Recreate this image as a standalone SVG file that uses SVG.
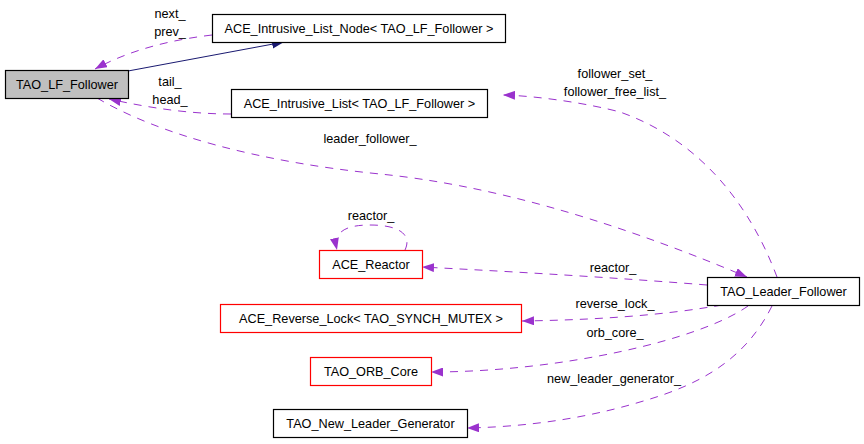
<svg xmlns="http://www.w3.org/2000/svg" width="864" height="444" viewBox="0 0 864 444">
<style>
.box{fill:#ffffff;stroke:#000000;stroke-width:1.2}
.red{fill:#ffffff;stroke:#ff0000;stroke-width:1.2}
.sel{fill:#bfbfbf;stroke:#000000;stroke-width:1.2}
text{font-family:"Liberation Sans",Arial,sans-serif;font-size:12.7px;fill:#000000}
.c{text-anchor:middle}
.e{fill:none;stroke:#9a32cd;stroke-width:1;stroke-dasharray:8,7}
.n{fill:none;stroke:#191970;stroke-width:1}
</style>
<defs>
<marker id="ap" viewBox="0 0 12 9" refX="12" refY="4.5" markerWidth="12" markerHeight="9" markerUnits="userSpaceOnUse" orient="auto">
<path d="M0,0 L12,4.5 L0,9 z" fill="#9a32cd"/>
</marker>
<marker id="an" viewBox="0 0 12 9" refX="12" refY="4.5" markerWidth="12" markerHeight="9" markerUnits="userSpaceOnUse" orient="auto">
<path d="M0,0 L12,4.5 L0,9 z" fill="#191970"/>
</marker>
</defs>
<g id="connectors">
<path class="n" d="M128,71 L284,42" marker-end="url(#an)"/>
<path class="e" d="M212,35 C170,40 130,50 95,69" marker-end="url(#ap)"/>
<text class="c" x="170" y="17.5">next_</text>
<text class="c" x="170" y="36">prev_</text>
<path class="e" d="M231,114 C190,114 150,108 109,99" marker-end="url(#ap)"/>
<text class="c" x="170" y="86">tail_</text>
<text class="c" x="170" y="104">head_</text>
<path class="e" d="M777,277 C750,205 700,140 620,112 C590,104 540,96 503,95" marker-end="url(#ap)"/>
<text class="c" x="615" y="77.5">follower_set_</text>
<text class="c" x="615" y="95.5">follower_free_list_</text>
<path class="e" d="M97,98 C160,135 260,162 380,174 C480,184 600,215 747,277" marker-end="url(#ap)"/>
<text class="c" x="370" y="143">leader_follower_</text>
<path class="e" d="M405,250 C412,235 400,225 370,225 C345,225 333,232 337,250" marker-end="url(#ap)"/>
<text class="c" x="371" y="220">reactor_</text>
<path class="e" d="M707,285 C620,278 520,272 422,267" marker-end="url(#ap)"/>
<text class="c" x="613" y="271.5">reactor_</text>
<path class="e" d="M722,305 C660,316 590,320 522,321" marker-end="url(#ap)"/>
<text class="c" x="615" y="308">reverse_lock_</text>
<path class="e" d="M748,306 C700,340 560,372 431,372" marker-end="url(#ap)"/>
<text class="c" x="615" y="337">orb_core_</text>
<path class="e" d="M772,306 C745,360 700,385 640,402 C580,420 520,427 467,428" marker-end="url(#ap)"/>
<text class="c" x="614" y="383">new_leader_generator_</text>
</g>
<g id="TAO_LF_Follower">
<rect class="sel" x="5.5" y="70.5" width="123" height="28"/>
<text class="c" x="67" y="89">TAO_LF_Follower</text>
</g>
<g id="ACE_Intrusive_List_Node">
<rect class="box" x="212.5" y="14.5" width="293" height="28"/>
<text class="c" x="359" y="33">ACE_Intrusive_List_Node&lt; TAO_LF_Follower &gt;</text>
</g>
<g id="ACE_Intrusive_List">
<rect class="box" x="231.5" y="89.5" width="256" height="28"/>
<text class="c" x="359.5" y="108">ACE_Intrusive_List&lt; TAO_LF_Follower &gt;</text>
</g>
<g id="ACE_Reactor">
<rect class="red" x="319.5" y="250.5" width="103" height="28"/>
<text class="c" x="371" y="269">ACE_Reactor</text>
</g>
<g id="ACE_Reverse_Lock">
<rect class="red" x="220.5" y="304.5" width="301" height="28"/>
<text class="c" x="371" y="323">ACE_Reverse_Lock&lt; TAO_SYNCH_MUTEX &gt;</text>
</g>
<g id="TAO_ORB_Core">
<rect class="red" x="310.5" y="357.5" width="121" height="28"/>
<text class="c" x="371" y="376">TAO_ORB_Core</text>
</g>
<g id="TAO_New_Leader_Generator">
<rect class="box" x="273.5" y="409.5" width="194" height="28"/>
<text class="c" x="370.5" y="428">TAO_New_Leader_Generator</text>
</g>
<g id="TAO_Leader_Follower">
<rect class="box" x="707.5" y="277.5" width="152" height="28"/>
<text class="c" x="783.5" y="296">TAO_Leader_Follower</text>
</g>
</svg>
